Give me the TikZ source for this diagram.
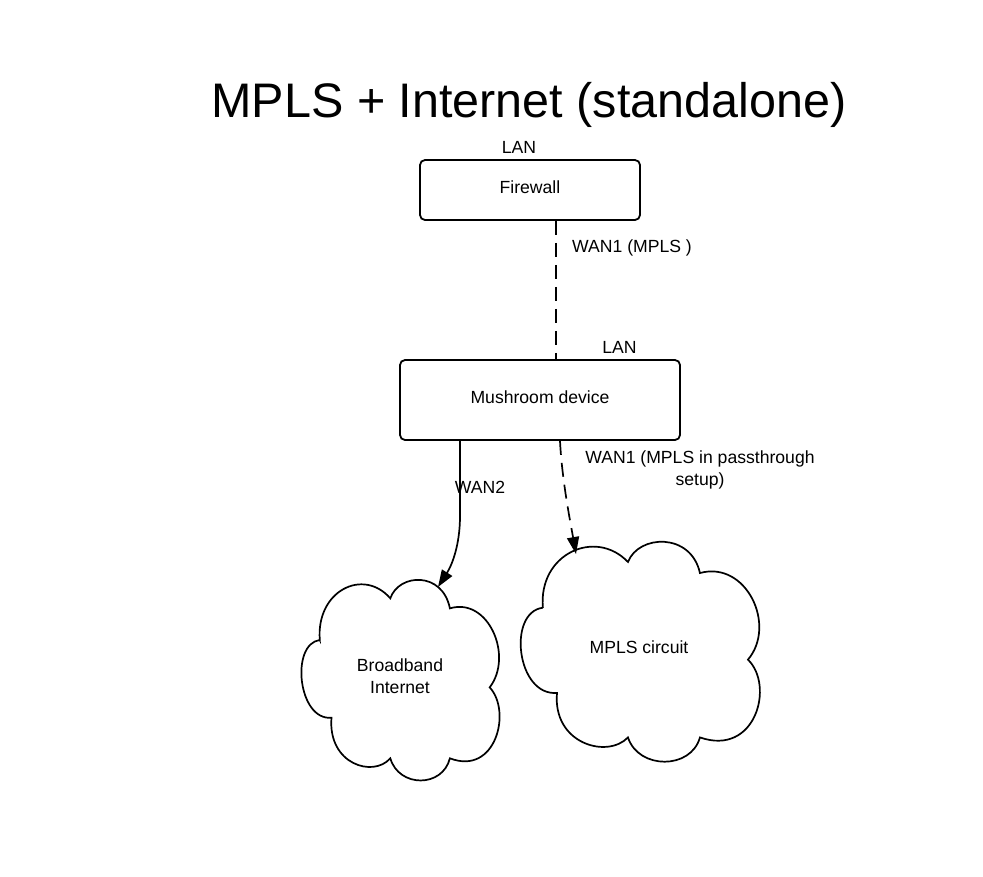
\documentclass[tikz,border=0pt]{standalone}
\usepackage{fontspec}
\setmainfont{Liberation Sans}
\usetikzlibrary{arrows.meta}
\newcommand\cloudoutline{%
  (0.10,0.30) .. controls (0.08,0.05) and (0.32,-0.07) .. (0.456,0.088)
  .. controls (0.50,-0.04) and (0.72,-0.05) .. (0.757,0.139)
  .. controls (0.95,0.08) and (1.08,0.38) .. (0.958,0.54)
  .. controls (1.07,0.66) and (0.99,0.99) .. (0.757,0.90)
  .. controls (0.72,1.05) and (0.50,1.05) .. (0.456,0.90)
  .. controls (0.37,1.00) and (0.14,0.93) .. (0.159,0.694)
  .. controls (-0.01,0.71) and (-0.05,0.32) .. cycle}
\begin{document}
\begin{tikzpicture}[x=1pt,y=-1pt,
  every node/.style={font=\fontsize{17.6}{21.5}\selectfont, inner sep=0pt},
  devbox/.style={draw, line width=1.8pt, rounded corners=5pt, fill=white},
  cloudline/.style={draw, line width=1.7pt, fill=white},
  conn/.style={line width=1.7pt},
  dashconn/.style={line width=1.7pt, dash pattern=on 14pt off 8pt},
  tip/.style={-{Triangle[length=17pt,width=12pt]}},
  lbl/.style={anchor=base}]
\useasboundingbox (0,0) rectangle (983,876);
\fill[white] (0,0) rectangle (983,876);

% title
\node[lbl, font=\fontsize{48.5}{58}\selectfont] (title) at (529,117) {MPLS + Internet (standalone)};

% devices
\node[devbox, minimum width=220pt, minimum height=60pt] (fw) at (530,190) {};
\node[lbl] (fwtext) at (530,193) {Firewall};
\node[devbox, minimum width=280pt, minimum height=80pt] (mush) at (540,400) {};
\node[lbl] (mushtext) at (540,403) {Mushroom device};

% clouds
\begin{scope}[shift={(300,581)}, xscale=198, yscale=197]
  \path[cloudline] \cloudoutline;
\end{scope}
\begin{scope}[shift={(519,543)}, xscale=239, yscale=216]
  \path[cloudline] \cloudoutline;
\end{scope}
\node[lbl, align=center] (bb) at (400,693) {Broadband\\Internet};
\node[lbl] (mpls) at (639,653) {MPLS circuit};
\coordinate (bbtop) at (438,587);
\coordinate (mplstop) at (576,554);

% labels
\node[lbl] (lan1) at (519,153) {LAN};
\node[lbl, anchor=base west] (wan1a) at (572,252) {WAN1 (MPLS )};
\node[lbl] (lan2) at (619.5,353) {LAN};
\node[lbl, align=center] (wan1b) at (700,485) {WAN1 (MPLS in passthrough\\setup)};
\node[lbl] (wan2) at (480,493) {WAN2};

% connectors
\draw[dashconn] ([xshift=26pt]fw.south) -- ([xshift=16pt]mush.north);
\draw[conn, tip] ([xshift=-80pt]mush.south) -- ++(0,75)
  .. controls (460,545) and (452,565) .. (bbtop);
\draw[dashconn, tip] ([xshift=20pt]mush.south)
  .. controls (562,480) and (570,520) .. (mplstop);
\end{tikzpicture}
\end{document}
